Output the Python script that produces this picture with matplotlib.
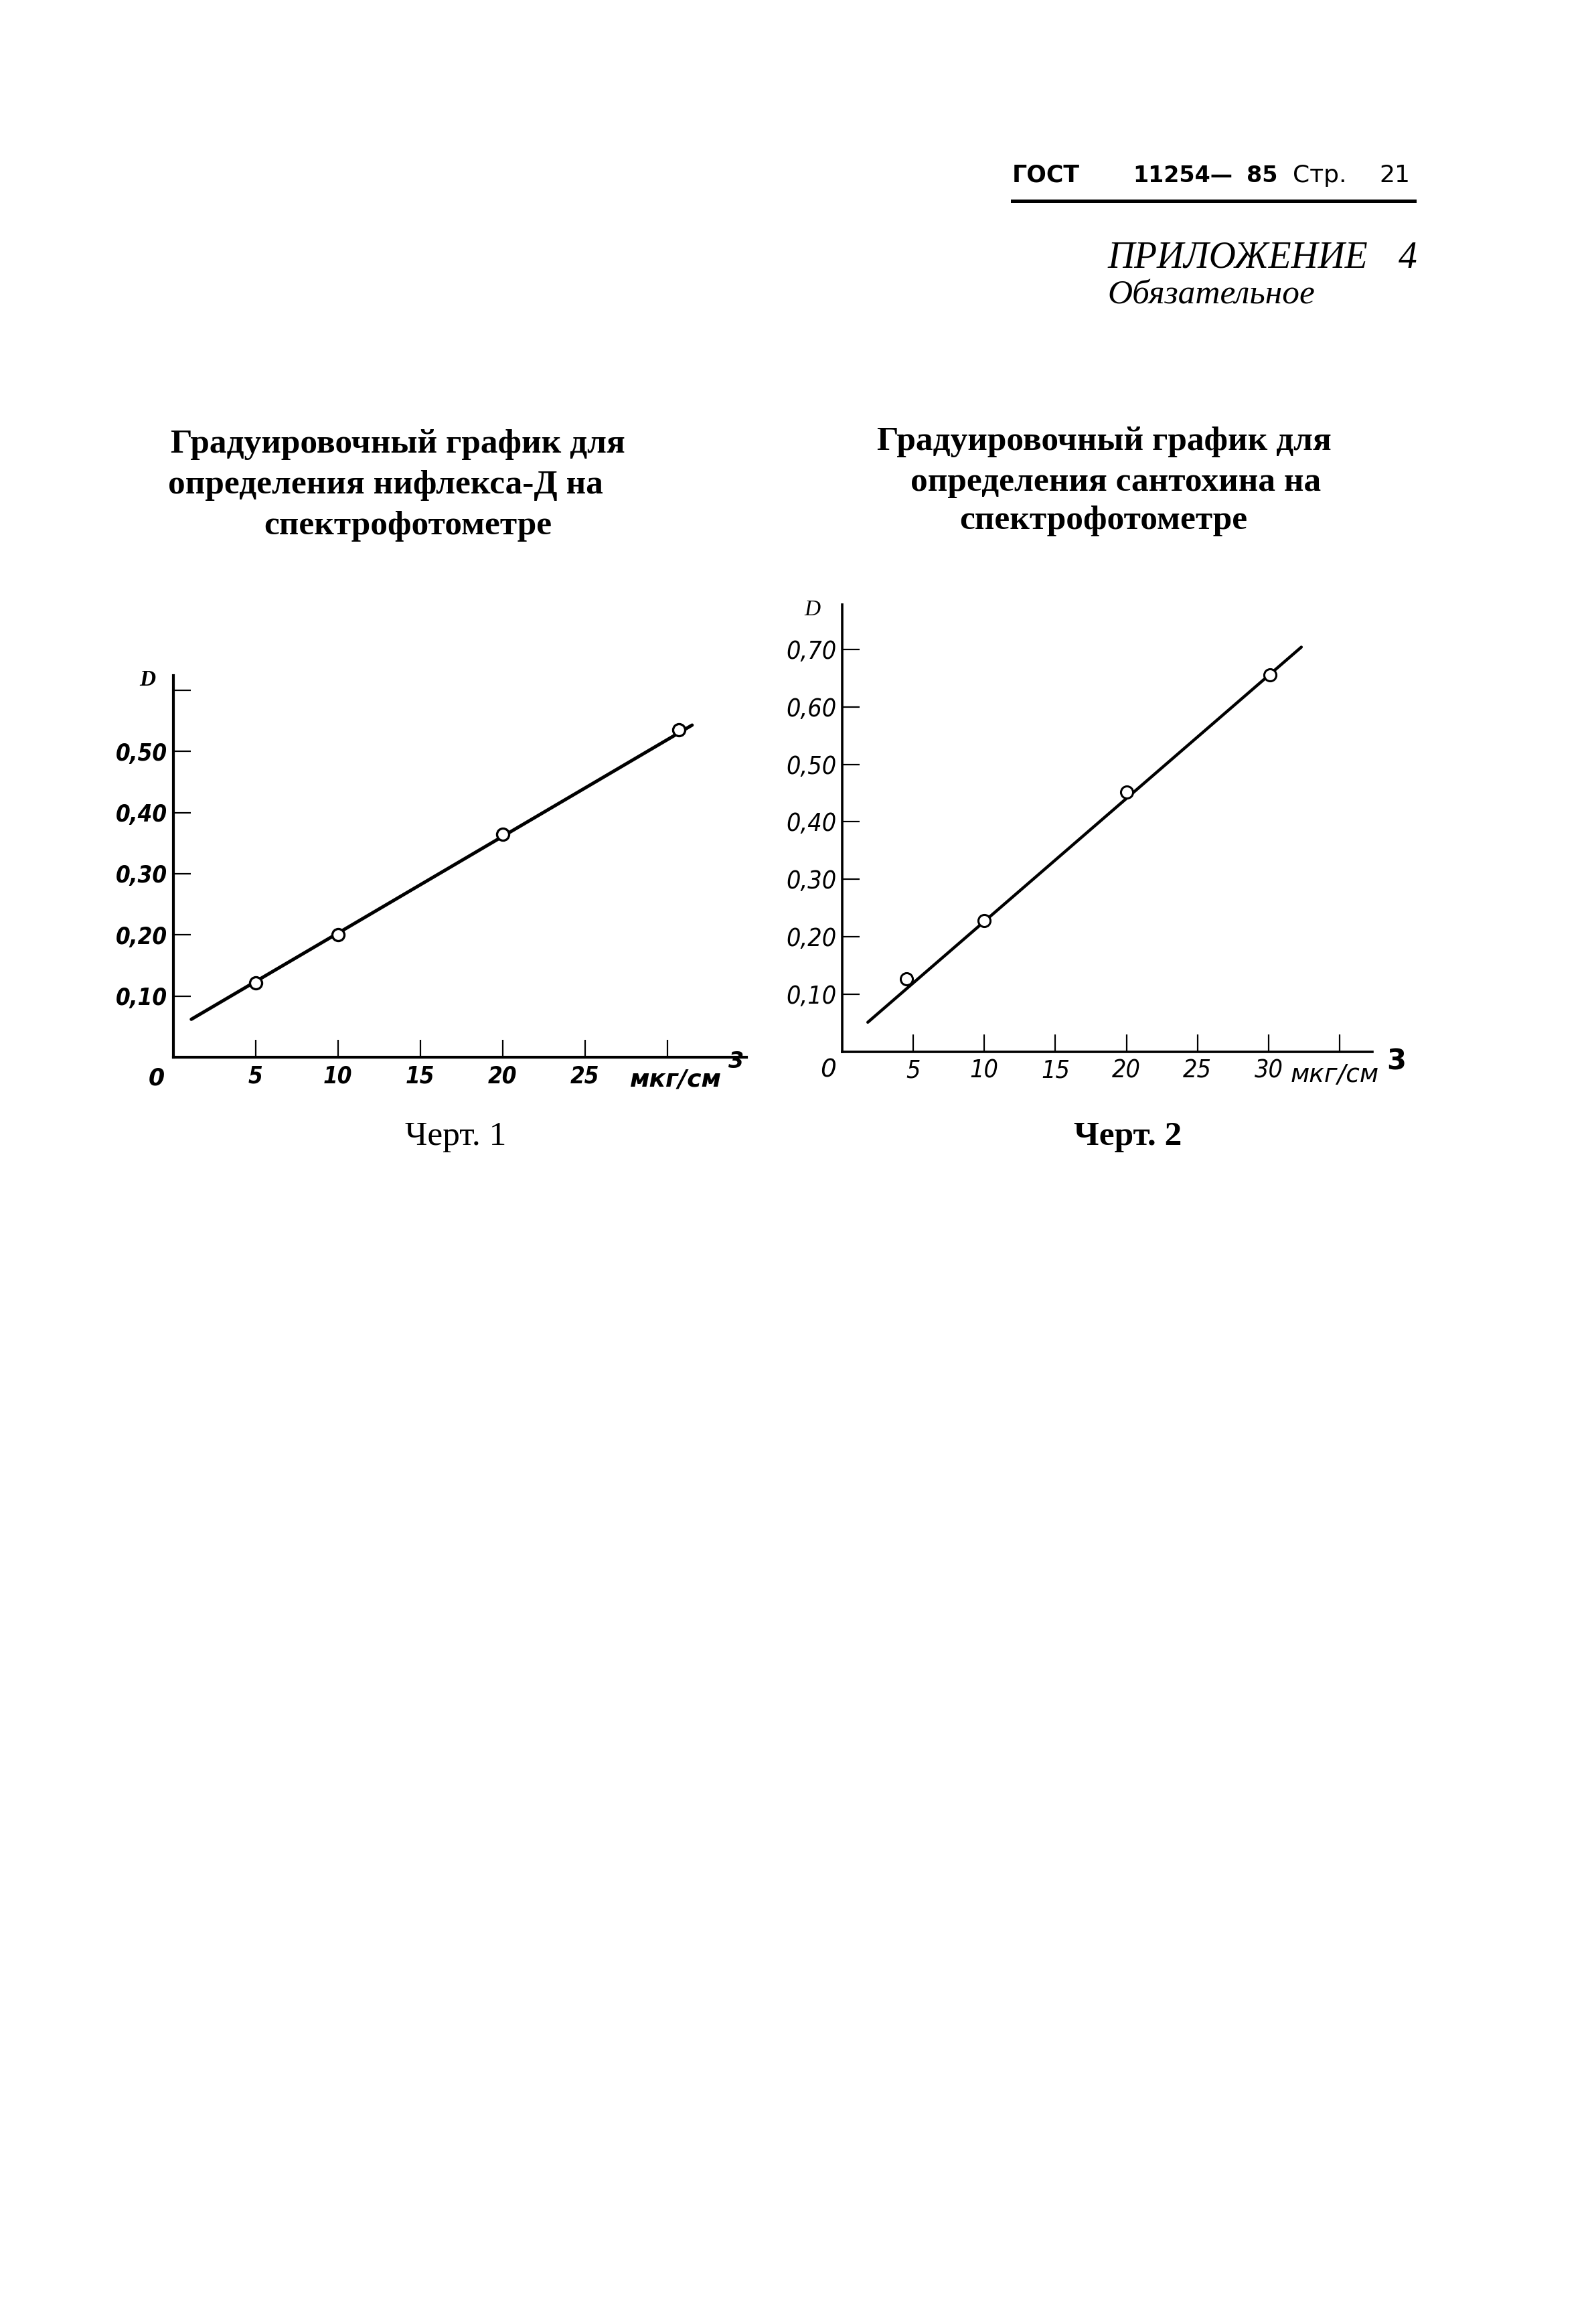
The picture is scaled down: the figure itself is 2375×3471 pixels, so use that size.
import matplotlib
matplotlib.use('Agg')
import matplotlib.pyplot as plt
from matplotlib.lines import Line2D

W, H = 2375, 3471
DPI = 100

# Черт. 1 - нифлекс-Д
conc1 = [5, 10, 20, 30.7]
d1 = [0.122, 0.20, 0.364, 0.535]
fit1_x = [1.1, 31.5]
fit1_y = [0.062, 0.543]
xticks1 = [5, 10, 15, 20, 25, 30]
xlabels1 = ['5', '10', '15', '20', '25', '']
yticks1 = [0.1, 0.2, 0.3, 0.4, 0.5, 0.6]
ylabels1 = ['0,10', '0,20', '0,30', '0,40', '0,50', '']

# Черт. 2 - сантохин
conc2 = [4.5, 10, 20, 30.1]
d2 = [0.127, 0.228, 0.452, 0.656]
fit2_x = [1.8, 32.3]
fit2_y = [0.051, 0.704]
xticks2 = [5, 10, 15, 20, 25, 30, 35]
xlabels2 = ['5', '10', '15', '20', '25', '30', '']
yticks2 = [0.1, 0.2, 0.3, 0.4, 0.5, 0.6, 0.7]
ylabels2 = ['0,10', '0,20', '0,30', '0,40', '0,50', '0,60', '0,70']

title1 = ['Градуировочный график для', 'определения нифлекса-Д на', 'спектрофотометре']
title2 = ['Градуировочный график для', 'определения сантохина на', 'спектрофотометре']

SERIF = ['Liberation Serif', 'DejaVu Serif']
SANS = ['DejaVu Sans']


def px(x, y):
    # page pixels -> figure fraction
    return x / W, 1 - y / H


fig = plt.figure(figsize=(W / DPI, H / DPI), dpi=DPI)
fig.patch.set_facecolor('white')

# header
fig.text(*px(1512, 272), 'ГОСТ', family=SANS, fontweight='bold', fontsize=25, va='baseline')
fig.text(*px(1692, 272), '11254—', family=SANS, fontweight='bold', fontsize=24, va='baseline')
fig.text(*px(1862, 272), '85', family=SANS, fontweight='bold', fontsize=24, va='baseline')
fig.text(*px(1931, 272), 'Стр.', family=SANS, fontsize=26, va='baseline')
fig.text(*px(2060, 272), '21', family=SANS, fontsize=26, va='baseline')
fig.add_artist(Line2D([1512 / W, 2113 / W], [1 - 300 / H, 1 - 300 / H],
                      transform=fig.transFigure, color='black', lw=3.6))

fig.text(*px(1654, 400), 'ПРИЛОЖЕНИЕ', family=SERIF, style='italic', fontsize=40, va='baseline')
fig.text(*px(2089, 400), '4', family=SERIF, style='italic', fontsize=40, va='baseline')
fig.text(*px(1654, 453), 'Обязательное', family=SERIF, style='italic', fontsize=37, va='baseline')

# titles
for (cx, by), line in zip([(594, 676), (576, 737), (609, 798)], title1):
    fig.text(*px(cx, by), line, family=SERIF, fontweight='bold', fontsize=37,
             ha='center', va='baseline')
for (cx, by), line in zip([(1649, 672), (1667, 733), (1648, 790)], title2):
    fig.text(*px(cx, by), line, family=SERIF, fontweight='bold', fontsize=37,
             ha='center', va='baseline')

fig.text(*px(681, 1710), 'Черт. 1', family=SERIF, fontsize=37, ha='center', va='baseline')
fig.text(*px(1685, 1710), 'Черт. 2', family=SERIF, fontweight='bold', fontsize=37,
         ha='center', va='baseline')


def setup(ax, xlim, ylim, xt, xl, yt, yl, lw, bold, size):
    ax.set_xlim(*xlim)
    ax.set_ylim(*ylim)
    for s in ['top', 'right']:
        ax.spines[s].set_visible(False)
    for s in ['left', 'bottom']:
        ax.spines[s].set_linewidth(lw)
    ax.set_facecolor('none')
    ax.set_xticks(xt)
    ax.set_xticklabels(xl)
    ax.set_yticks(yt)
    ax.set_yticklabels(yl)
    ax.tick_params(direction='in', length=19, width=1.6, labelsize=size)
    ax.tick_params(axis='y', pad=6)
    ax.tick_params(axis='x', pad=8)
    for lab in ax.get_xticklabels() + ax.get_yticklabels():
        lab.set_family(SANS)
        lab.set_style('italic')
        lab.set_stretch('condensed')
        if bold:
            lab.set_fontweight('bold')


# chart 1
ax1 = fig.add_axes([0.10893, 0.54509, 0.36055, 0.16422])
setup(ax1, (0, 34.8), (0, 0.624), xticks1, xlabels1, yticks1, ylabels1, 3.0, True, 25)
ax1.plot(fit1_x, fit1_y, color='black', lw=3.6, solid_capstyle='round')
ax1.plot(conc1, d1, 'o', ms=13, mfc='white', mec='black', mew=2.4)
ax1.annotate('0', (0, 0), xytext=(-25, -32), textcoords='offset pixels',
             ha='center', va='center', fontsize=25, style='italic', fontweight='bold', family=SANS)
ax1.annotate('D', (0, 0.624), xytext=(-38, -7), textcoords='offset pixels',
             ha='center', va='center', fontsize=24, style='italic', fontweight='bold', family=SERIF)
fig.text(*px(1009, 1613), 'мкг/см', family=SANS, style='italic', fontweight='bold',
         fontsize=26, ha='center', va='center')
fig.text(*px(1100, 1585), '3', family=SANS, style='italic', fontweight='bold',
         fontsize=24, ha='center', va='center')

# chart 2
ax2 = fig.add_axes([0.52968, 0.54751, 0.33348, 0.19234])
setup(ax2, (0, 37.3), (0, 0.778), xticks2, xlabels2, yticks2, ylabels2, 2.6, False, 27)
ax2.plot(fit2_x, fit2_y, color='black', lw=3.2, solid_capstyle='round')
ax2.plot(conc2, d2, 'o', ms=13, mfc='white', mec='black', mew=2.2)
ax2.annotate('0', (0, 0), xytext=(-21, -28), textcoords='offset pixels',
             ha='center', va='center', fontsize=27, style='italic', family=SANS)
ax2.annotate('D', (0, 0.778), xytext=(-45, -8), textcoords='offset pixels',
             ha='center', va='center', fontsize=24, style='italic', family=SERIF)
fig.text(*px(1994, 1606), 'мкг/см', family=SANS, style='italic',
         fontsize=27, ha='center', va='center')
fig.text(*px(2086, 1586), '3', family=SANS, fontweight='bold', fontsize=30,
         ha='center', va='center')

fig.savefig('out.png', dpi=DPI, facecolor='white')
